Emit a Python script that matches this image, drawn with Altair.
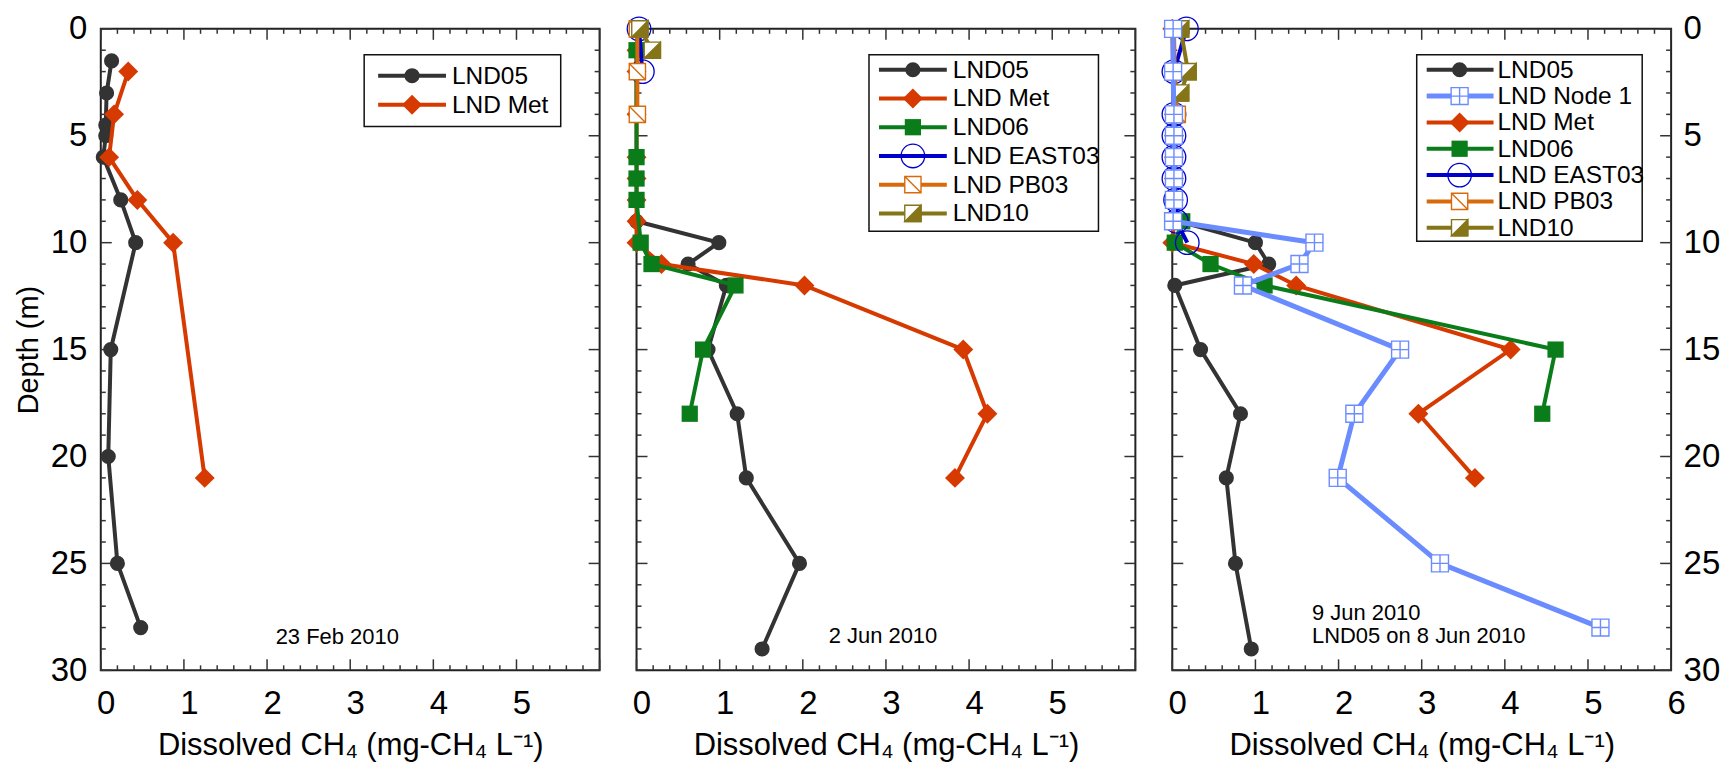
import altair as alt
import pandas as pd

FONT = "Liberation Sans"
W, H = 500, 643

# ---------------- data ----------------
# Panel 1: 23 Feb 2010
p1_lnd05_depth = [1.5, 3, 4.5, 5, 6, 8, 10, 15, 20, 25, 28]
p1_lnd05_ch4 = [0.13, 0.07, 0.06, 0.06, 0.03, 0.24, 0.42, 0.12, 0.09, 0.20, 0.48]
p1_met_depth = [2, 4, 6, 8, 10, 21]
p1_met_ch4 = [0.33, 0.16, 0.10, 0.44, 0.87, 1.25]

# Panel 2: 2 Jun 2010
p2_lnd05_depth = [9, 10, 11, 12, 15, 18, 21, 25, 29]
p2_lnd05_ch4 = [0.0, 0.99, 0.62, 1.08, 0.86, 1.21, 1.32, 1.96, 1.51]
p2_met_depth = [1, 2, 4, 6, 7, 8, 9, 10, 11, 12, 15, 18, 21]
p2_met_ch4 = [0.0, 0.0, 0.0, 0.0, 0.0, 0.0, 0.0, 0.0, 0.30, 2.02, 3.93, 4.22, 3.83]
p2_lnd06_depth = [1, 6, 7, 8, 10, 11, 12, 15, 18]
p2_lnd06_ch4 = [0.0, 0.0, 0.0, 0.0, 0.05, 0.18, 1.19, 0.80, 0.64]
p2_east03_depth = [0, 2]
p2_east03_ch4 = [0.03, 0.07]
p2_pb03_depth = [0, 2, 4]
p2_pb03_ch4 = [0.01, 0.01, 0.01]
p2_lnd10_depth = [0, 1]
p2_lnd10_ch4 = [0.04, 0.19]

# Panel 3: 9 Jun 2010 (LND05 on 8 Jun 2010)
p3_lnd05_depth = [9, 10, 11, 12, 15, 18, 21, 25, 29]
p3_lnd05_ch4 = [0.08, 1.00, 1.16, 0.03, 0.34, 0.82, 0.65, 0.76, 0.95]
p3_node1_depth = [0, 2, 4, 5, 6, 7, 8, 9, 10, 11, 12, 15, 18, 21, 25, 28]
p3_node1_ch4 = [0.01, 0.01, 0.02, 0.02, 0.02, 0.02, 0.02, 0.01, 1.71, 1.53, 0.85, 2.74, 2.19, 1.99, 3.22, 5.15]
p3_met_depth = [0, 4, 5, 6, 7, 8, 9, 10, 11, 12, 15, 18, 21]
p3_met_ch4 = [0.0, 0.02, 0.02, 0.02, 0.02, 0.02, 0.02, 0.0, 0.98, 1.49, 4.07, 2.96, 3.64]
p3_lnd06_depth = [9, 10, 11, 12, 15, 18]
p3_lnd06_ch4 = [0.12, 0.03, 0.46, 1.11, 4.61, 4.45]
p3_east03_depth = [0, 2, 4, 5, 6, 7, 8, 9, 10]
p3_east03_ch4 = [0.17, 0.02, 0.02, 0.02, 0.02, 0.02, 0.04, 0.05, 0.18]
p3_pb03_depth = [0, 2, 4]
p3_pb03_ch4 = [0.02, 0.03, 0.06]
p3_lnd10_depth = [0, 2, 3]
p3_lnd10_ch4 = [0.10, 0.19, 0.10]

x_major = [0, 1, 2, 3, 4, 5, 6]
y_major = [0, 5, 10, 15, 20, 25, 30]
x_minor = [i / 5 for i in range(31) if i % 5 != 0]
y_minor = [i for i in range(31) if i % 5 != 0]

X_TITLE = "Dissolved CH₄ (mg-CH₄ L⁻¹)"

TICK_FS = 33
XTITLE_FS = 31
YTITLE_FS = 29
LEG_FS = 24.5
NOTE_FS = 22

# ---------------- styles ----------------
PLUS_SQ = "M-1,-1H1V1H-1Z M0,-1V1 M-1,0H1"
DIAG_SQ = "M-1,-1H1V1H-1Z M-1,-1L1,1"
TRI = "M1,-1L1,1L-1,1Z"

STYLE = {
    "LND05": dict(color="#333333", shape="circle", size=230, kind="filled", lw=4),
    "LND Node 1": dict(color="#6b8cff", shape=PLUS_SQ, size=290, kind="white", lw=5),
    "LND Met": dict(color="#d63a00", shape="diamond", size=400, kind="filled", lw=4),
    "LND06": dict(color="#0a7d1a", shape="square", size=265, kind="filled", lw=4),
    "LND EAST03": dict(color="#0000cc", shape="circle", size=560, kind="open", lw=4),
    "LND PB03": dict(color="#d96a0c", shape=DIAG_SQ, size=265, kind="white", lw=4),
    "LND10": dict(color="#857518", shape="square", size=265, kind="half", lw=4),
}

ONE = pd.DataFrame({"k": [0]})
xs = alt.Scale(domain=[0, 6], nice=False, zero=False)
ys = alt.Scale(domain=[0, 30], reverse=True, nice=False, zero=False)


def point_marks(name, data, enc):
    s = STYLE[name]
    c = s["color"]
    out = []
    if s["kind"] == "filled":
        out.append(alt.Chart(data).mark_point(shape=s["shape"], size=s["size"], filled=True,
                                              color=c, opacity=1).encode(**enc))
    elif s["kind"] == "open":
        out.append(alt.Chart(data).mark_point(shape=s["shape"], size=s["size"], filled=False,
                                              color=c, strokeWidth=1.3, opacity=1).encode(**enc))
    elif s["kind"] == "white":
        out.append(alt.Chart(data).mark_point(shape=s["shape"], size=s["size"], filled=True,
                                              fill="white", stroke=c, strokeWidth=1.4,
                                              opacity=1).encode(**enc))
    else:  # half filled
        out.append(alt.Chart(data).mark_point(shape="square", size=s["size"], filled=True,
                                              fill="white", stroke=c, strokeWidth=1.4,
                                              opacity=1).encode(**enc))
        out.append(alt.Chart(data).mark_point(shape=TRI, size=s["size"], filled=True,
                                              fill=c, stroke=c, strokeWidth=1.4,
                                              opacity=1).encode(**enc))
    return out


def build_panel(series, xvals, yaxis, legend_geo, notes):
    X = alt.X("val:Q", scale=xs, axis=alt.Axis(
        values=xvals, title=X_TITLE, grid=False, ticks=False, domain=False,
        labelFontSize=TICK_FS, titleFontSize=XTITLE_FS, labelPadding=17, titlePadding=10,
        labelFlush=False, labelOffset=5, format="d", labelFont=FONT, titleFont=FONT,
        labelColor="black", titleColor="black", titleFontWeight="normal"))
    Y = alt.Y("depth:Q", scale=ys, axis=yaxis)
    layers = []
    # frame ticks (inward)
    tc = dict(color="#333333", strokeWidth=1.5)
    dxM = pd.DataFrame({"val": x_major})
    dxm = pd.DataFrame({"val": x_minor})
    dyM = pd.DataFrame({"depth": y_major})
    dym = pd.DataFrame({"depth": y_minor})
    for d, L in ((dxM, 11), (dxm, 5)):
        layers.append(alt.Chart(d).mark_rule(**tc).encode(x=X, y=alt.value(H), y2=alt.value(H - L)))
        layers.append(alt.Chart(d).mark_rule(**tc).encode(x=X, y=alt.value(0), y2=alt.value(L)))
    for d, L in ((dyM, 11), (dym, 5)):
        layers.append(alt.Chart(d).mark_rule(**tc).encode(y=Y, x=alt.value(0), x2=alt.value(L)))
        layers.append(alt.Chart(d).mark_rule(**tc).encode(y=Y, x=alt.value(W), x2=alt.value(W - L)))

    # data series
    order = [n for n in ["LND05", "LND Met", "LND06", "LND EAST03", "LND PB03", "LND10", "LND Node 1"]
             if n in series]
    for name in order:
        depth, ch4 = series[name]
        df = pd.DataFrame({"depth": depth, "val": ch4})
        s = STYLE[name]
        layers.append(alt.Chart(df).mark_line(color=s["color"], strokeWidth=s["lw"]).encode(
            x=X, y=Y, order="depth:Q"))
        layers += point_marks(name, df, dict(x=X, y=Y))

    # legend
    entries, (bx0, bx1, by0, by1), y0, dy, (lx0, lx1), mx, tx = legend_geo
    layers.append(alt.Chart(ONE).mark_rect(fill="white", stroke="#111111", strokeWidth=1.5).encode(
        x=alt.value(bx0), x2=alt.value(bx1), y=alt.value(by0), y2=alt.value(by1)))
    for i, name in enumerate(entries):
        s = STYLE[name]
        yy = y0 + dy * i
        layers.append(alt.Chart(ONE).mark_rule(color=s["color"], strokeWidth=s["lw"]).encode(
            x=alt.value(lx0), x2=alt.value(lx1), y=alt.value(yy)))
        layers += point_marks(name, ONE, dict(x=alt.value(mx), y=alt.value(yy)))
        layers.append(alt.Chart(ONE).mark_text(align="left", baseline="middle", font=FONT,
                                               fontSize=LEG_FS, color="black").encode(
            x=alt.value(tx), y=alt.value(yy + 1), text=alt.value(name)))

    # annotations
    for (txt, px, py, al) in notes:
        layers.append(alt.Chart(ONE).mark_text(align=al, baseline="middle", font=FONT,
                                               fontSize=NOTE_FS, color="black").encode(
            x=alt.value(px), y=alt.value(py), text=alt.value(txt)))

    return alt.layer(*layers).properties(width=W, height=H)


ylab = dict(values=y_major, grid=False, ticks=False, domain=False, labelFontSize=TICK_FS,
            titleFontSize=YTITLE_FS, labelFont=FONT, titleFont=FONT, labelColor="black",
            titleColor="black", format="d", titleFontWeight="normal")

p1 = build_panel(
    {"LND05": (p1_lnd05_depth, p1_lnd05_ch4), "LND Met": (p1_met_depth, p1_met_ch4)},
    [0, 1, 2, 3, 4, 5],
    alt.Axis(orient="left", title="Depth (m)", labelPadding=14, titlePadding=7, **ylab),
    (["LND05", "LND Met"], (264, 461, 26, 98), 47, 29, (278, 346), 312, 352),
    [("23 Feb 2010", 237, 610, "center")],
)

p2 = build_panel(
    {"LND05": (p2_lnd05_depth, p2_lnd05_ch4), "LND Met": (p2_met_depth, p2_met_ch4),
     "LND06": (p2_lnd06_depth, p2_lnd06_ch4), "LND EAST03": (p2_east03_depth, p2_east03_ch4),
     "LND PB03": (p2_pb03_depth, p2_pb03_ch4), "LND10": (p2_lnd10_depth, p2_lnd10_ch4)},
    [0, 1, 2, 3, 4, 5],
    None,
    (["LND05", "LND Met", "LND06", "LND EAST03", "LND PB03", "LND10"],
     (233, 463, 26, 203), 41, 28.8, (243, 311), 277, 317),
    [("2 Jun 2010", 247, 609, "center")],
)

p3 = build_panel(
    {"LND05": (p3_lnd05_depth, p3_lnd05_ch4), "LND Node 1": (p3_node1_depth, p3_node1_ch4),
     "LND Met": (p3_met_depth, p3_met_ch4), "LND06": (p3_lnd06_depth, p3_lnd06_ch4),
     "LND EAST03": (p3_east03_depth, p3_east03_ch4), "LND PB03": (p3_pb03_depth, p3_pb03_ch4),
     "LND10": (p3_lnd10_depth, p3_lnd10_ch4)},
    [0, 1, 2, 3, 4, 5, 6],
    alt.Axis(orient="right", title=None, labelPadding=12, **ylab),
    (["LND05", "LND Node 1", "LND Met", "LND06", "LND EAST03", "LND PB03", "LND10"],
     (245, 471, 26, 213), 41, 26.4, (255, 322), 288, 326),
    [("9 Jun 2010", 140, 586, "left"), ("LND05 on 8 Jun 2010", 140, 609, "left")],
)

chart = alt.hconcat(p1, p2, p3, spacing=37, bounds="flush").properties(
    padding={"left": 5, "top": 3, "right": 2, "bottom": 2}
).configure_view(stroke="#222222", strokeWidth=2).configure_concat(spacing=37)

chart.save("out.html", embed_options={"renderer": "svg", "actions": False})
